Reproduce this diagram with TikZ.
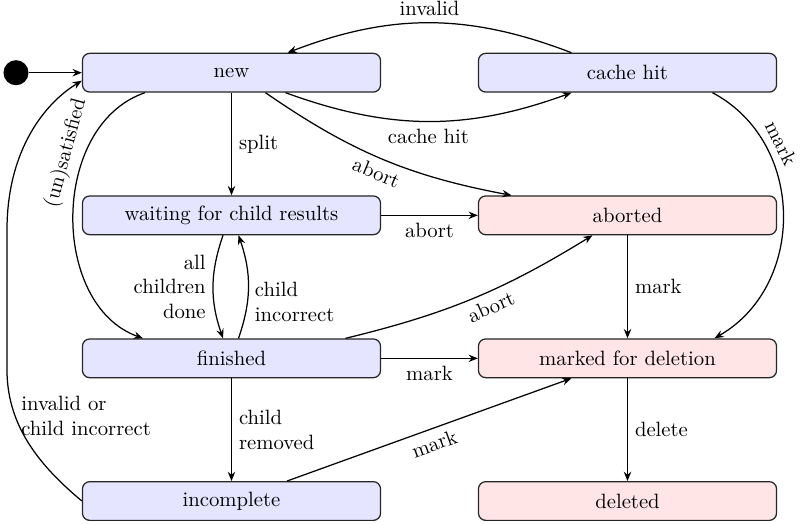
\documentclass[tikz,border=0pt]{standalone}
\usetikzlibrary{arrows.meta,calc}
\begin{document}
\begin{tikzpicture}[x=0.4831pt,y=0.4831pt,
  state/.style={draw=black!85, line width=0.6pt, rounded corners=3.5pt,
    minimum width=144pt, minimum height=18.7pt, inner sep=0pt},
  live/.style={state, fill=blue!10},
  dead/.style={state, fill=red!10},
  trans/.style={-{Stealth[length=4.5pt,width=3.6pt,inset=1.5pt]}, line width=0.6pt}]
\useasboundingbox (0,0) rectangle (801,-524);

% states
\node[live] (new) at (231.5,-72.7) {new};
\node[live] (hit) at (627.5,-72.7) {cache hit};
\node[live] (wait) at (231.5,-215.3) {waiting for child results};
\node[dead] (aborted) at (627.5,-215.3) {aborted};
\node[live] (fin) at (231.5,-358.3) {finished};
\node[dead] (marked) at (627.5,-358.3) {marked for deletion};
\node[live] (inc) at (231.5,-501) {incomplete};
\node[dead] (del) at (627.5,-501) {deleted};
\node[circle, fill=black, minimum size=12.1pt, inner sep=0pt] (init) at (16,-72.7) {};

% transitions
\draw[trans] (init) -- (new);
\draw[trans] (new) -- node[right] {split} (wait);
\draw[trans] ($(new.south)+(54,0)$) to[bend right=20] node[below] {cache hit} ($(hit.south)+(-56,0)$);
\draw[trans] ($(hit.north)+(-56,0)$) to[bend right=21] node[above] {invalid} ($(new.north)+(56,0)$);
\draw[trans] ($(new.south)+(34,0)$) to[bend right=12] node[sloped,below] {abort} ($(aborted.north)+(-116,0)$);
\draw[trans] ($(new.south)+(-86.5,0)$) .. controls (50,-125) and (50,-305) .. ($(fin.north)+(-88.5,0)$);
\node[rotate=75] (sat) at (66,-153) {(un)satisfied};
\draw[trans] (wait) -- node[below] {abort} (aborted);
\draw[trans] ($(wait.south)+(-8.5,0)$) to[bend right=19] node[left, align=right] {all\\children\\done} ($(fin.north)+(-8.5,0)$);
\draw[trans] ($(fin.north)+(7,0)$) to[bend right=19] node[pos=0.35,right,align=left] {child\\incorrect} ($(wait.south)+(7,0)$);
\draw[trans] ($(fin.north)+(114,0)$) to[bend right=9] node[sloped,below,pos=0.55] {abort} ($(aborted.south)+(-35,0)$);
\draw[trans] (fin) -- node[below] {mark} (marked);
\draw[trans] (fin) -- node[right, align=left] {child\\removed} (inc);
\draw[trans] (aborted) -- node[right] {mark} (marked);
\draw[trans] ($(hit.south)+(85,0)$) to[out=-28,in=30,looseness=1.1] node[sloped,above,pos=0.27] {mark} ($(marked.north)+(87,0)$);
\draw[trans] ($(inc.north)+(55.5,0)$) -- node[sloped,below] {mark} ($(marked.south)+(-56,0)$);
\draw[trans] (marked) -- node[right] {delete} (del);
\draw[trans] (inc.west) .. controls (45,-470) and (7,-430) .. (7,-370) -- (7,-230)
  .. controls (7,-150) and (45,-103) .. ($(new.west)+(0,-8)$);
\node[anchor=west, align=left] (invlbl) at (14,-415.5) {invalid or\\child incorrect};
\end{tikzpicture}
\end{document}
